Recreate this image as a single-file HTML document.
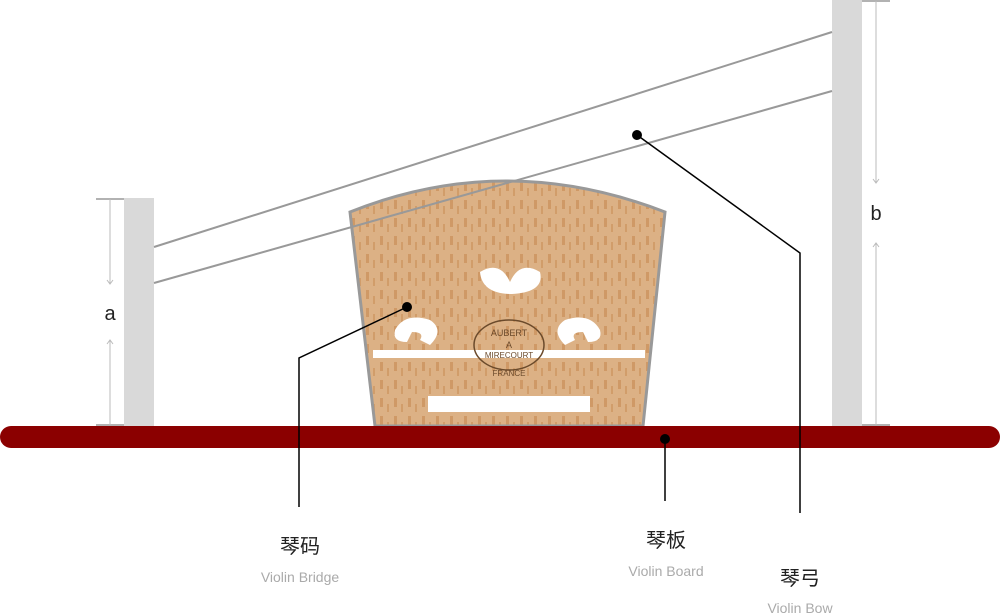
<!DOCTYPE html>
<html><head><meta charset="utf-8"><style>
html,body{margin:0;padding:0;background:#fff;width:1000px;height:615px;overflow:hidden}
svg{display:block}
text{font-family:"Liberation Sans","Noto Sans CJK SC",sans-serif}
</style></head><body>
<svg width="1000" height="615" viewBox="0 0 1000 615">
<defs>
<pattern id="wood" width="14" height="18" patternUnits="userSpaceOnUse">
<rect width="14" height="18" fill="#dcb185"/>
<rect x="2" y="2" width="3" height="9" fill="#c98f58" opacity="0.7"/>
<rect x="9" y="8" width="2" height="8" fill="#c98f58" opacity="0.6"/>
</pattern>
</defs>
<g>
<rect x="124" y="198" width="30" height="228" fill="#d9d9d9"/>
<line x1="96" y1="199" x2="124" y2="199" stroke="#999" stroke-width="1.5"/>
<line x1="96" y1="425" x2="124" y2="425" stroke="#999" stroke-width="1.5"/>
<line x1="110" y1="199" x2="110" y2="284" stroke="#bbb"/>
<path d="M107 280 L110 284 L113 280" fill="none" stroke="#bbb"/>
<line x1="110" y1="340" x2="110" y2="425" stroke="#bbb"/>
<path d="M107 344 L110 340 L113 344" fill="none" stroke="#bbb"/>
<text x="110" y="320" font-size="20" text-anchor="middle" fill="#222">a</text>
</g>
<g>
<rect x="832" y="0" width="30" height="426" fill="#d9d9d9"/>
<line x1="862" y1="1" x2="890" y2="1" stroke="#999" stroke-width="1.5"/>
<line x1="862" y1="425" x2="890" y2="425" stroke="#999" stroke-width="1.5"/>
<line x1="876" y1="1" x2="876" y2="183" stroke="#bbb"/>
<path d="M873 179 L876 183 L879 179" fill="none" stroke="#bbb"/>
<line x1="876" y1="243" x2="876" y2="425" stroke="#bbb"/>
<path d="M873 247 L876 243 L879 247" fill="none" stroke="#bbb"/>
<text x="876" y="220" font-size="20" text-anchor="middle" fill="#222">b</text>
</g>
<g>
<path d="M350 212 Q505 150 665 212 L643 426 L375 426 Z" fill="url(#wood)" stroke="#999" stroke-width="3"/>
<path d="M480 272 q20 -12 30 10 q10 -22 30 -10 q5 20 -28 22 q-30 0 -32 -22z" fill="#fff"/>
<path d="M395 330 q10 -18 35 -10 q15 10 0 25 l-10 -5 q5 -8 -8 -8 l-5 10 q-15 0 -12 -12z" fill="#fff"/>
<path d="M600 330 q-10 -18 -35 -10 q-15 10 0 25 l10 -5 q-5 -8 8 -8 l5 10 q15 0 12 -12z" fill="#fff"/>
<path d="M373 350 L645 350 L645 358 L373 358 Z" fill="#fff"/>
<path d="M428 396 L590 396 L590 412 L428 412 Z" fill="#fff"/>
<ellipse cx="509" cy="345" rx="35" ry="25" fill="none" stroke="#6b4a2b" stroke-width="1.5"/>
<text x="509" y="336" font-size="9" text-anchor="middle" fill="#6b4a2b">AUBERT</text>
<text x="509" y="348" font-size="9" text-anchor="middle" fill="#6b4a2b">A</text>
<text x="509" y="358" font-size="8" text-anchor="middle" fill="#6b4a2b">MIRECOURT</text>
<text x="509" y="376" font-size="8" text-anchor="middle" fill="#6b4a2b">FRANCE</text>
</g>
<g>
<line x1="154" y1="247" x2="832" y2="32" stroke="#999" stroke-width="2"/>
<line x1="154" y1="283" x2="832" y2="91" stroke="#999" stroke-width="2"/>
</g>
<rect x="0" y="426" width="1000" height="22" rx="11" fill="#8b0000"/>
<g>
<polyline points="407,307 299,358 299,507" fill="none" stroke="#000" stroke-width="1.5"/>
<circle cx="407" cy="307" r="5" fill="#000"/>
<text x="300" y="553" font-size="20" text-anchor="middle" fill="#222">琴码</text>
<text x="300" y="582" font-size="14" text-anchor="middle" fill="#aaa">Violin Bridge</text>
</g>
<g>
<line x1="665" y1="439" x2="665" y2="501" stroke="#000" stroke-width="1.5"/>
<circle cx="665" cy="439" r="5" fill="#000"/>
<text x="666" y="547" font-size="20" text-anchor="middle" fill="#222">琴板</text>
<text x="666" y="576" font-size="14" text-anchor="middle" fill="#aaa">Violin Board</text>
</g>
<g>
<polyline points="637,135 800,253 800,513" fill="none" stroke="#000" stroke-width="1.5"/>
<circle cx="637" cy="135" r="5" fill="#000"/>
<text x="800" y="585" font-size="20" text-anchor="middle" fill="#222">琴弓</text>
<text x="800" y="613" font-size="14" text-anchor="middle" fill="#aaa">Violin Bow</text>
</g>
</svg>
</body></html>
